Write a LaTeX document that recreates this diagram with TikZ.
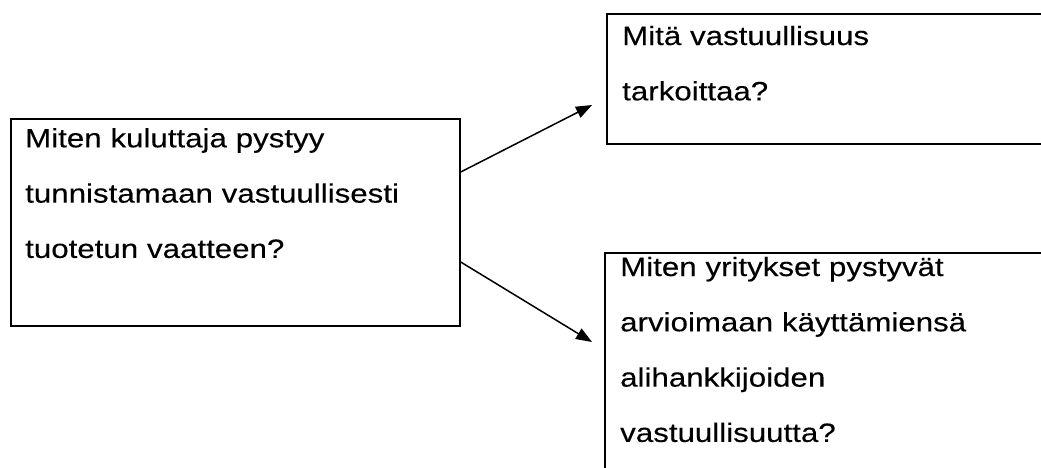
\documentclass[tikz,border=0pt]{standalone}
\usepackage{fontspec}
\setmainfont[FakeStretch=1.18,FakeBold=0.25]{Liberation Sans}
\usetikzlibrary{arrows.meta}
\begin{document}
\begin{tikzpicture}[x=1pt,y=-1pt,
  qbox/.style={draw=black,line width=1.7pt,rectangle,inner sep=0pt,anchor=north west},
  qtext/.style={anchor=base west,inner sep=0pt,text width=440pt,align=left,
    font=\fontsize{26.5}{55.3}\selectfont},
  arr/.style={line width=1.5pt,-{Triangle[length=16pt,width=12pt]}}]
\useasboundingbox (0,0) rectangle (1041,467);
\clip (0,0) rectangle (1041,467);
\node[qbox,minimum width=449pt,minimum height=207pt] (L) at (10,118) {};
\node[qtext] (Lt) at (25,147.3) {Miten kuluttaja pystyy\\tunnistamaan vastuullisesti\\tuotetun vaatteen?};
\node[qbox,minimum width=460pt,minimum height=130pt] (A) at (606,13) {};
\node[qtext] (At) at (622,45) {Mitä vastuullisuus\\tarkoittaa?};
\node[qbox,minimum width=460pt,minimum height=240pt] (B) at (604,252) {};
\node[qtext] (Bt) at (620,276) {Miten yritykset pystyvät\\arvioimaan käyttämiensä\\alihankkijoiden\\vastuullisuutta?};
\coordinate (a1) at ([yshift=-54pt]L.north east);
\coordinate (a2) at ([yshift=-144pt]L.north east);
\coordinate (t1) at ([xshift=-14pt,yshift=-92pt]A.north west);
\coordinate (t2) at ([xshift=-12pt,yshift=-90pt]B.north west);
\draw[arr] (a1) -- (t1);
\draw[arr] (a2) -- (t2);
\end{tikzpicture}
\end{document}
